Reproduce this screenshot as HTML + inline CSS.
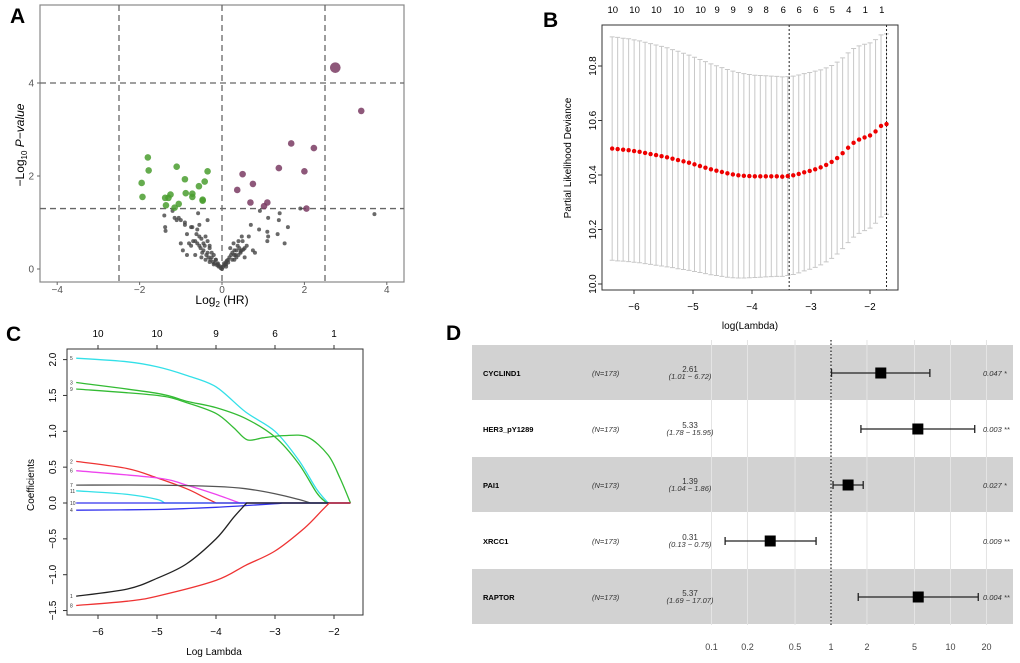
<!DOCTYPE html>
<html><head><meta charset="utf-8"><style>
html,body{margin:0;padding:0;background:#fff;width:1020px;height:663px;overflow:hidden}
svg{display:block;font-family:"Liberation Sans",Arial,sans-serif}
</style></head><body>
<svg id="fig" width="1020" height="663" viewBox="0 0 1020 663" xmlns="http://www.w3.org/2000/svg">
<text x="10" y="23" font-size="21" font-weight="bold">A</text>
<text x="543" y="27" font-size="21" font-weight="bold">B</text>
<text x="6" y="341" font-size="21" font-weight="bold">C</text>
<text x="446" y="340" font-size="21" font-weight="bold">D</text>
<g id="pa"></g>
<g id="pb"></g>
<g id="pc"></g>
<g id="pd"></g>
</svg>
<script>
// ---------- Panel A data ----------
const greenX=[-1.8,-1.78,-1.95,-1.93,-1.1,-0.9,-0.35,-0.42,-0.56,-0.88,-0.72,-0.72,-0.47,-0.47,-1.25,-1.3,-1.38,-1.36,-1.05,-1.15];
const greenY=[2.4,2.12,1.85,1.55,2.2,1.93,2.1,1.88,1.78,1.63,1.62,1.55,1.49,1.47,1.6,1.53,1.53,1.37,1.4,1.32];
const purpleX=[3.38,1.68,2.23,1.38,2.0,0.5,0.75,0.37,0.69,1.1,1.02,2.05];
const purpleY=[3.4,2.7,2.6,2.17,2.1,2.04,1.83,1.7,1.43,1.43,1.35,1.3];
const bigX=[2.75], bigY=[4.33];
const greyX=[-1.4,-1.38,-1.37,-1.2,-1.15,-1.1,-1.05,-1.0,-0.95,-0.9,-0.85,-0.8,-0.75,-0.72,-0.7,-0.65,-0.62,-0.6,-0.58,-0.55,-0.52,-0.5,-0.48,-0.45,-0.42,-0.4,-0.38,-0.35,-0.33,-0.3,-0.28,-0.25,-0.22,-0.2,-0.18,-0.15,-0.12,-0.1,-0.08,-0.05,-0.03,0.0,0.02,0.05,0.08,0.1,0.12,0.15,0.18,0.2,0.22,0.25,0.28,0.3,0.33,0.35,0.38,0.4,0.42,0.45,0.48,0.5,0.55,0.6,0.65,0.7,0.8,0.9,0.92,1.1,1.12,1.12,1.35,1.38,1.4,1.52,1.6,1.9,3.7,-0.9,-0.75,-0.6,-0.55,-0.45,-0.4,-0.35,-0.3,-0.25,-0.2,-0.15,0.05,0.1,0.15,0.25,0.3,0.35,0.4,0.45,0.48,0.52,-1.0,-0.85,-0.65,-0.5,-0.3,-0.1,0.1,0.3,0.55,0.75,1.1,-0.55,-0.35];
const greyY=[1.15,0.9,0.82,1.25,1.1,1.05,1.1,1.05,0.4,1.0,0.75,0.55,0.5,0.9,0.6,0.3,0.75,0.55,1.2,0.7,0.45,0.65,0.35,0.55,0.5,0.7,0.3,0.6,0.25,0.45,0.2,0.35,0.15,0.3,0.12,0.2,0.08,0.12,0.05,0.06,0.02,0.0,0.04,0.08,0.1,0.15,0.18,0.2,0.25,0.45,0.3,0.35,0.55,0.4,0.3,0.4,0.5,0.6,0.45,0.35,0.7,0.6,0.45,0.5,0.7,0.95,0.35,0.85,1.25,0.8,0.7,1.1,0.75,1.05,1.2,0.55,0.9,1.3,1.18,0.95,0.9,0.85,0.5,0.4,0.2,0.35,0.15,0.25,0.1,0.2,0.12,0.1,0.14,0.2,0.3,0.25,0.3,0.38,0.4,0.42,0.55,0.3,0.6,0.25,0.5,0.1,0.05,0.2,0.25,0.4,0.6,0.95,1.05];
const aXTicks=[-4,-2,0,2,4], aYTicks=[0,2,4];
// ---------- Panel B data ----------
const bLambda0=-6.37, bStep=0.093;
const bMean=[10.497,10.495,10.493,10.491,10.488,10.485,10.481,10.477,10.473,10.469,10.465,10.460,10.455,10.450,10.445,10.439,10.433,10.427,10.421,10.416,10.411,10.406,10.402,10.399,10.397,10.396,10.395,10.395,10.395,10.395,10.395,10.394,10.396,10.399,10.404,10.410,10.415,10.421,10.428,10.437,10.448,10.462,10.480,10.500,10.518,10.530,10.538,10.545,10.560,10.580,10.587];
const bSE=[0.410,0.410,0.409,0.409,0.408,0.407,0.406,0.405,0.404,0.403,0.402,0.400,0.399,0.397,0.395,0.393,0.391,0.389,0.387,0.385,0.383,0.381,0.379,0.377,0.375,0.373,0.371,0.370,0.369,0.368,0.367,0.366,0.365,0.364,0.363,0.362,0.361,0.360,0.358,0.356,0.354,0.352,0.350,0.348,0.346,0.344,0.342,0.340,0.337,0.334,0.331];
const bTopLambda=[-6.36,-5.99,-5.62,-5.24,-4.87,-4.59,-4.32,-4.03,-3.76,-3.47,-3.20,-2.92,-2.64,-2.36,-2.08,-1.80];
const bTopCount=[10,10,10,10,10,9,9,9,8,6,6,6,5,4,1,1];
const bXTicks=[-6,-5,-4,-3,-2], bYTicks=[10.0,10.2,10.4,10.6,10.8];
const bVLines=[-3.37,-1.72];
// ---------- Panel C data ----------
const cColors=["#33e0e8","#33bb33","#33bb33","#ee3333","#ee44ee","#555555","#33e0e8","#3333ee","#3333ee","#222222","#ee3333"];
const cLabels=["5","3","9","2","6","7","11","10","4","1","8"];
const cX=[
[-6.37,-5.5,-5,-4.5,-4,-3.5,-3,-2.6,-2.3,-2.1,-1.72],
[-6.37,-5,-4.5,-4,-3.5,-3,-2.6,-2.3,-2.15,-2.08,-1.72],
[-6.37,-5,-4.5,-4,-3.7,-3.47,-3.2,-2.85,-2.45,-2.1,-1.9,-1.72],
[-6.37,-5.5,-5,-4.5,-4.2,-4,-1.72],
[-6.37,-5,-4.5,-4,-3.6,-1.72],
[-6.37,-5,-4,-3.5,-3,-2.6,-2.4,-1.72],
[-6.37,-5.5,-5,-4.87,-1.72],
[-6.37,-1.72],
[-6.37,-5,-4,-3,-2.9,-1.72],
[-6.37,-5.5,-5,-4.5,-4,-3.7,-3.48,-1.72],
[-6.37,-5.5,-5,-4,-3.5,-3,-2.5,-2.2,-2.08,-1.72]];
const cY=[
[2.02,1.97,1.9,1.78,1.62,1.27,1.0,0.6,0.2,0,0],
[1.68,1.53,1.42,1.33,1.18,0.92,0.55,0.15,0.02,0,0],
[1.59,1.5,1.4,1.25,1.05,0.88,0.91,0.94,0.92,0.67,0.35,0],
[0.58,0.48,0.35,0.2,0.08,0,0],
[0.45,0.35,0.25,0.12,0,0],
[0.25,0.25,0.23,0.2,0.13,0.05,0,0],
[0.17,0.12,0.05,0,0],
[0,0],
[-0.1,-0.09,-0.06,-0.01,0,0],
[-1.3,-1.2,-1.05,-0.85,-0.5,-0.2,0,0],
[-1.43,-1.37,-1.3,-1.08,-0.87,-0.67,-0.35,-0.1,0,0]];
const cTopLambda=[-6,-5,-4,-3,-2], cTopCount=[10,10,9,6,1];
const cXTicks=[-6,-5,-4,-3,-2], cYTicks=[-1.5,-1.0,-0.5,0.0,0.5,1.0,1.5,2.0];
// ---------- Panel D data ----------
const dNames=["CYCLIND1","HER3_pY1289","PAI1","XRCC1","RAPTOR"];
const dHR=[2.61,5.33,1.39,0.31,5.37];
const dLo=[1.01,1.78,1.04,0.13,1.69];
const dHi=[6.72,15.95,1.86,0.75,17.07];
const dP=["0.047","0.003","0.027","0.009","0.004"];
const dStars=["*","**","*","**","**"];
const dTicks=[0.1,0.2,0.5,1,2,5,10,20];

const NS="http://www.w3.org/2000/svg";
function mk(parent,tag,attrs,text){const e=document.createElementNS(NS,tag);for(const k in attrs)e.setAttribute(k,attrs[k]);if(text!==undefined)e.textContent=text;parent.appendChild(e);return e;}
const fmt1=v=>v.toFixed(1);

// ===== Panel A =====
(function(){
const g=document.getElementById('pa');
const X=v=>222+v*41.2, Y=v=>269-v*46.5;
let r=mk(g,'rect',{x:40,y:5,width:364,height:277,fill:'#fff',stroke:'#888','stroke-width':1.2});


const dash={stroke:'#666','stroke-width':1.3,'stroke-dasharray':'6,4',fill:'none'};
[-2.5,0,2.5].forEach(v=>{const l=mk(g,'line',Object.assign({x1:X(v),x2:X(v),y1:5,y2:282},dash));});
[4,1.3].forEach(v=>{const l=mk(g,'line',Object.assign({x1:40,x2:404,y1:Y(v),y2:Y(v)},dash));});
greyX.forEach((x,i)=>{const c=mk(g,'circle',{cx:X(x),cy:Y(greyY[i]),r:2,fill:'#444','fill-opacity':0.8});});
greenX.forEach((x,i)=>{const c=mk(g,'circle',{cx:X(x),cy:Y(greenY[i]),r:3.3,fill:'#4a9e2f','fill-opacity':0.85});});
purpleX.forEach((x,i)=>{const c=mk(g,'circle',{cx:X(x),cy:Y(purpleY[i]),r:3.3,fill:'#7a3b63','fill-opacity':0.85});});
bigX.forEach((x,i)=>{const c=mk(g,'circle',{cx:X(x),cy:Y(bigY[i]),r:5.3,fill:'#7a3b63','fill-opacity':0.85});});
aXTicks.forEach(v=>{mk(g,'line',{x1:X(v),x2:X(v),y1:282,y2:285,stroke:'#666'});const t=mk(g,'text',{x:X(v),y:293,'font-size':10,fill:'#555','text-anchor':'middle'},v<0?'\u2212'+(-v):v);});
aYTicks.forEach(v=>{mk(g,'line',{x1:37,x2:40,y1:Y(v),y2:Y(v),stroke:'#666'});const t=mk(g,'text',{x:34,y:Y(v)+3.5,'font-size':10,fill:'#555','text-anchor':'end'},v);});
let t=mk(g,'text',{x:222,y:304,'font-size':12,'text-anchor':'middle'});

t.innerHTML='Log<tspan font-size="8" dy="3">2</tspan><tspan dy="-3"> (HR)</tspan>';
t=mk(g,'text',{x:0,y:0,'font-size':12,'text-anchor':'middle',transform:'translate(24,145) rotate(-90)'});

t.innerHTML='\u2212Log<tspan font-size="8" dy="3">10</tspan><tspan dy="-3" font-style="italic"> P\u2212value</tspan>';
})();

// ===== Panel B =====
(function(){
const g=document.getElementById('pb');
const X=v=>634+(v+6)*59, Y=v=>284-(v-10)*272.5;
bMean.forEach((m,i)=>{const lam=bLambda0+i*bStep, x=X(lam);
 const up=Y(m+bSE[i]), lo=Y(m-bSE[i]);
 const e=mk(g,'path',{d:`M${x},${up}V${lo}M${x-2.5},${up}H${x+2.5}M${x-2.5},${lo}H${x+2.5}`,stroke:'#c8c8c8','stroke-width':1,fill:'none'});
 });
bVLines.forEach(v=>{const l=mk(g,'line',{x1:X(v),x2:X(v),y1:25,y2:290,stroke:'#222','stroke-width':1,'stroke-dasharray':'2,2'});});
bMean.forEach((m,i)=>{const c=mk(g,'circle',{cx:X(bLambda0+i*bStep),cy:Y(m),r:2.2,fill:'#ee0000'});});
const r=mk(g,'rect',{x:602,y:25,width:296,height:265,fill:'none',stroke:'#333','stroke-width':1});

bXTicks.forEach(v=>{mk(g,'line',{x1:X(v),x2:X(v),y1:290,y2:294,stroke:'#333'});const t=mk(g,'text',{x:X(v),y:310,'font-size':10,'text-anchor':'middle'},v<0?'\u2212'+(-v):v);});
bYTicks.forEach(v=>{mk(g,'line',{x1:598,x2:602,y1:Y(v),y2:Y(v),stroke:'#333'});const t=mk(g,'text',{x:0,y:0,'font-size':10,'text-anchor':'middle',transform:`translate(596,${Y(v)}) rotate(-90)`},fmt1(v));});
bTopLambda.forEach((v,i)=>{const t=mk(g,'text',{x:X(v),y:13,'font-size':9.5,'text-anchor':'middle'},bTopCount[i]);});
let t=mk(g,'text',{x:750,y:329,'font-size':10,'text-anchor':'middle'},'log(Lambda)');
t=mk(g,'text',{x:0,y:0,'font-size':10,'text-anchor':'middle',transform:'translate(571,158) rotate(-90)'},'Partial Likelihood Deviance');
})();

// ===== Panel C =====
(function(){
const g=document.getElementById('pc');
const X=v=>98+(v+6)*59, Y=v=>503-v*71.7;
function smooth(pts){let d='M'+pts[0][0].toFixed(1)+','+pts[0][1].toFixed(1);
 for(let i=0;i<pts.length-1;i++){const p0=pts[Math.max(0,i-1)],p1=pts[i],p2=pts[i+1],p3=pts[Math.min(pts.length-1,i+2)];
  const t=0.16;
  const c1=[p1[0]+(p2[0]-p0[0])*t,p1[1]+(p2[1]-p0[1])*t], c2=[p2[0]-(p3[0]-p1[0])*t,p2[1]-(p3[1]-p1[1])*t];
  d+=`C${c1[0].toFixed(1)},${c1[1].toFixed(1)} ${c2[0].toFixed(1)},${c2[1].toFixed(1)} ${p2[0].toFixed(1)},${p2[1].toFixed(1)}`;}
 return d;}
cX.forEach((xs,i)=>{const pts=xs.map((x,j)=>[X(x),Y(cY[i][j])]);
 let k=cY[i].findIndex((v,j)=>j>0&&v===0); if(k<0)k=pts.length-1;
 let d=smooth(pts.slice(0,k+1));
 for(let j=k+1;j<pts.length;j++) d+=`L${pts[j][0].toFixed(1)},${pts[j][1].toFixed(1)}`;
 const p=mk(g,'path',{d:d,stroke:cColors[i],'stroke-width':1.3,fill:'none'});
 
 const t=mk(g,'text',{x:70,y:Y(cY[i][0])+2,'font-size':5,fill:'#333'},cLabels[i]);
 });
const r=mk(g,'rect',{x:67,y:349,width:296,height:266,fill:'none',stroke:'#333','stroke-width':1});

cXTicks.forEach(v=>{mk(g,'line',{x1:X(v),x2:X(v),y1:615,y2:619,stroke:'#333'});const t=mk(g,'text',{x:X(v),y:635,'font-size':10,'text-anchor':'middle'},v<0?'\u2212'+(-v):v);});
cYTicks.forEach(v=>{mk(g,'line',{x1:63,x2:67,y1:Y(v),y2:Y(v),stroke:'#333'});const t=mk(g,'text',{x:0,y:0,'font-size':10,'text-anchor':'middle',transform:`translate(56,${Y(v)}) rotate(-90)`},v<0?'\u2212'+fmt1(-v):fmt1(v));});
cTopLambda.forEach((v,i)=>{mk(g,'line',{x1:X(v),x2:X(v),y1:345,y2:349,stroke:'#333'});const t=mk(g,'text',{x:X(v),y:337,'font-size':10,'text-anchor':'middle'},cTopCount[i]);});
let t=mk(g,'text',{x:214,y:655,'font-size':10,'text-anchor':'middle'},'Log Lambda');
t=mk(g,'text',{x:0,y:0,'font-size':10,'text-anchor':'middle',transform:'translate(34,485) rotate(-90)'},'Coefficients');
})();

// ===== Panel D =====
(function(){
const g=document.getElementById('pd');
const X=v=>831+Math.log10(v)*119.5;
const rowH=56, top=345;
dNames.forEach((n,i)=>{ if(i%2===0){const b=mk(g,'rect',{x:472,y:top+i*rowH,width:541,height:rowH-1,fill:'#d2d2d2'});}});
dTicks.forEach(v=>{const l=mk(g,'line',{x1:X(v),x2:X(v),y1:top-5,y2:top+5*rowH,stroke:'#e4e4e4','stroke-width':1});
 const t=mk(g,'text',{x:X(v),y:650,'font-size':9,fill:'#444','text-anchor':'middle'},v);});
const ref=mk(g,'line',{x1:X(1),x2:X(1),y1:top-5,y2:top+5*rowH,stroke:'#222','stroke-width':1.2,'stroke-dasharray':'1.5,2'});

dNames.forEach((n,i)=>{const cy=top+i*rowH+28;
 let t=mk(g,'text',{x:483,y:cy+3,'font-size':7.5,'font-weight':'bold'},n);
 t=mk(g,'text',{x:592,y:cy+3,'font-size':7.5,'font-style':'italic',fill:'#333'},'(N=173)');
 t=mk(g,'text',{x:690,y:cy-1,'font-size':8,'text-anchor':'middle',fill:'#333'},dHR[i].toFixed(2));
 t=mk(g,'text',{x:690,y:cy+6,'font-size':7.5,'font-style':'italic','text-anchor':'middle',fill:'#333'},'('+dLo[i].toFixed(2)+' \u2212 '+dHi[i].toFixed(2)+')');
 t=mk(g,'text',{x:983,y:cy+3,'font-size':7.5,'font-style':'italic',fill:'#333'},dP[i]+' '+dStars[i]);
 const l=mk(g,'path',{d:`M${X(dLo[i])},${cy}H${X(dHi[i])}M${X(dLo[i])},${cy-4}V${cy+4}M${X(dHi[i])},${cy-4}V${cy+4}`,stroke:'#222','stroke-width':1.3,fill:'none'});
 
 const s=mk(g,'rect',{x:X(dHR[i])-5.5,y:cy-5.5,width:11,height:11,fill:'#000'});
 });
})();
</script>
</body></html>
